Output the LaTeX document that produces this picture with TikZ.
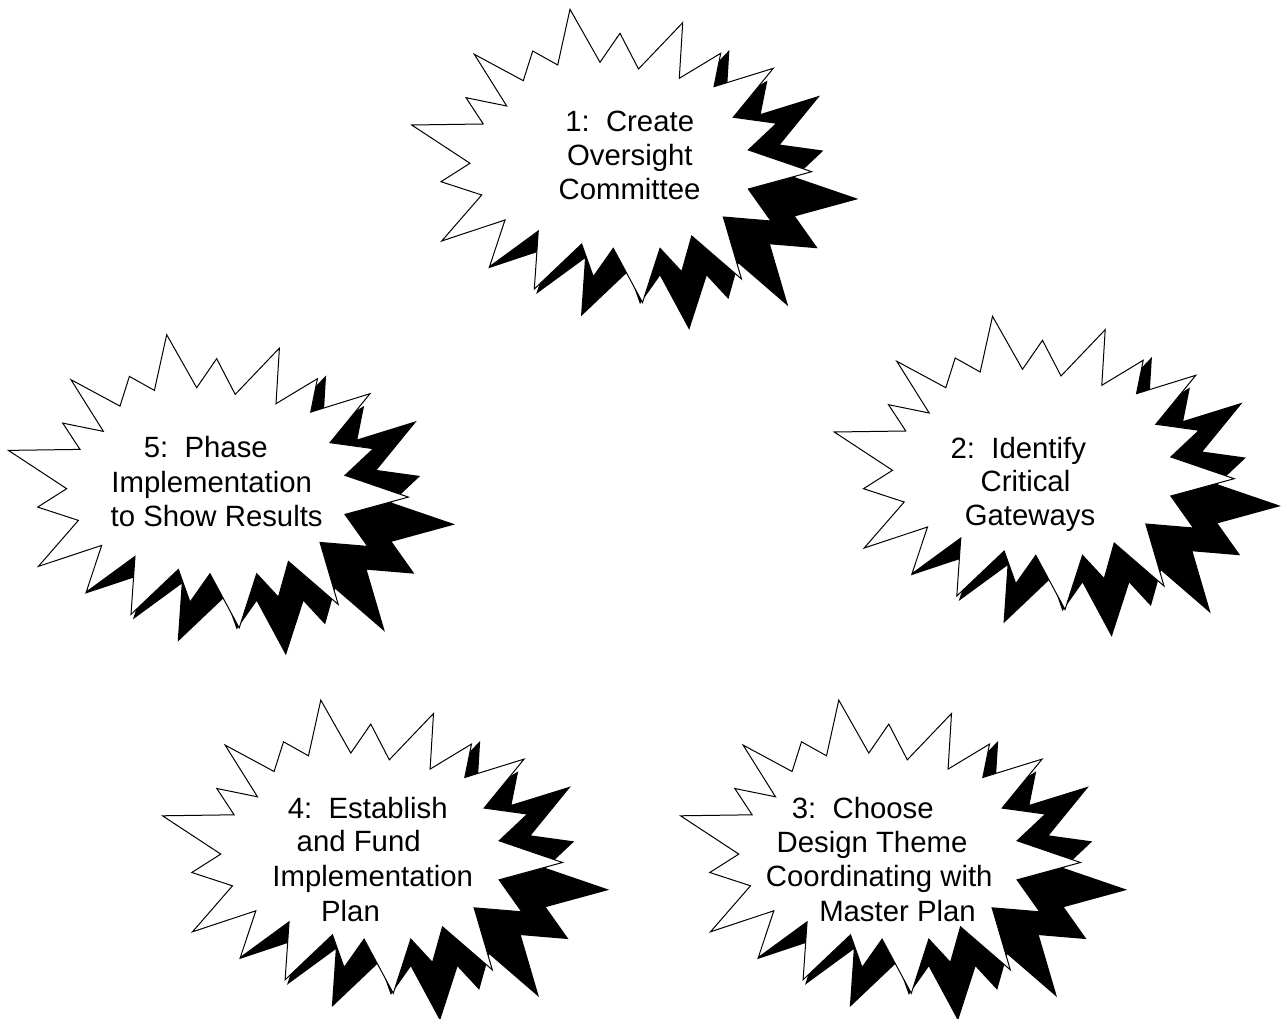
\documentclass[tikz,border=0pt]{standalone}
\usepackage{fontspec}
\setmainfont{Liberation Sans}
\tikzset{
  lbl/.style={anchor=base, inner sep=0pt, font=\fontsize{22}{25.8}\selectfont},
  burstline/.style={fill=white, draw=black, line width=0.75pt, line join=miter},
  burst/.pic={
    \fill[black, shift={(46.7,27.3)}]
      (570,9.3) -- (600,62.3) -- (620,33.3) -- (638.5,69) -- (682.7,22.7) -- (679.3,78.3) --
      (720.7,53.3) -- (714,86.7) -- (773.3,68.3) -- (733.3,117.3) -- (776.7,123.3) --
      (748.3,150) -- (811.7,171.7) -- (748.3,189) -- (771,221) -- (723.3,217) --
      (741.5,279) -- (691.7,236) -- (681.7,271.7) -- (660,248.3) -- (642.5,302.5) --
      (613.3,248.3) -- (593.3,276.7) -- (581.7,244) -- (534.3,289) -- (538.3,231) --
      (489.5,266.7) -- (505,220) -- (441.7,241) -- (481.7,195) -- (441,181.7) --
      (470,163.3) -- (411.7,125) -- (483.3,124) -- (466,97.7) -- (506.7,106) --
      (474.3,54.3) -- (523.3,80.7) -- (532.7,51) -- (557.7,65) -- cycle;
    \path[burstline]
      (570,9.3) -- (600,62.3) -- (620,33.3) -- (638.5,69) -- (682.7,22.7) -- (679.3,78.3) --
      (720.7,53.3) -- (714,86.7) -- (773.3,68.3) -- (733.3,117.3) -- (776.7,123.3) --
      (748.3,150) -- (811.7,171.7) -- (748.3,189) -- (771,221) -- (723.3,217) --
      (741.5,279) -- (691.7,236) -- (681.7,271.7) -- (660,248.3) -- (642.5,302.5) --
      (613.3,248.3) -- (593.3,276.7) -- (581.7,244) -- (534.3,289) -- (538.3,231) --
      (489.5,266.7) -- (505,220) -- (441.7,241) -- (481.7,195) -- (441,181.7) --
      (470,163.3) -- (411.7,125) -- (483.3,124) -- (466,97.7) -- (506.7,106) --
      (474.3,54.3) -- (523.3,80.7) -- (532.7,51) -- (557.7,65) -- cycle;
  }
}
\begin{document}
\begin{tikzpicture}[x=0.75pt, y=-0.75pt]
\useasboundingbox (0,0) rectangle (1283,1019);
% starbursts
\pic (b1) at (0,0) {burst};
\pic (b2) at (422.5,307) {burst};
\pic (b3) at (268.8,690.8) {burst};
\pic (b4) at (-249.2,690.8) {burst};
\pic (b5) at (-403.3,325.4) {burst};
% texts
\node[lbl] (t1a) at (629.7,131.7) {1:\ \ Create};
\node[lbl] (t1b) at (629.8,165.7) {Oversight};
\node[lbl] (t1c) at (629.5,200) {Committee};

\node[lbl] (t2a) at (1018.3,458.3) {2:\ \ Identify};
\node[lbl] (t2b) at (1025.5,491.7) {Critical};
\node[lbl] (t2c) at (1030,525.5) {Gateways};

\node[lbl] (t3a) at (862.8,818.3) {3:\ \ Choose};
\node[lbl] (t3b) at (872,852.3) {Design Theme};
\node[lbl] (t3c) at (879.3,886.7) {Coordinating with};
\node[lbl] (t3d) at (897.5,921) {Master Plan};

\node[lbl] (t4a) at (367.8,818.3) {4:\ \ Establish};
\node[lbl] (t4b) at (358.7,851.7) {and Fund};
\node[lbl] (t4c) at (372.7,886.7) {Implementation};
\node[lbl] (t4d) at (350.5,921) {Plan};

\node[lbl] (t5a) at (205.8,457.7) {5:\ \ Phase};
\node[lbl] (t5b) at (211.7,492.7) {Implementation};
\node[lbl] (t5c) at (216.7,526.7) {to Show Results};
\end{tikzpicture}
\end{document}
